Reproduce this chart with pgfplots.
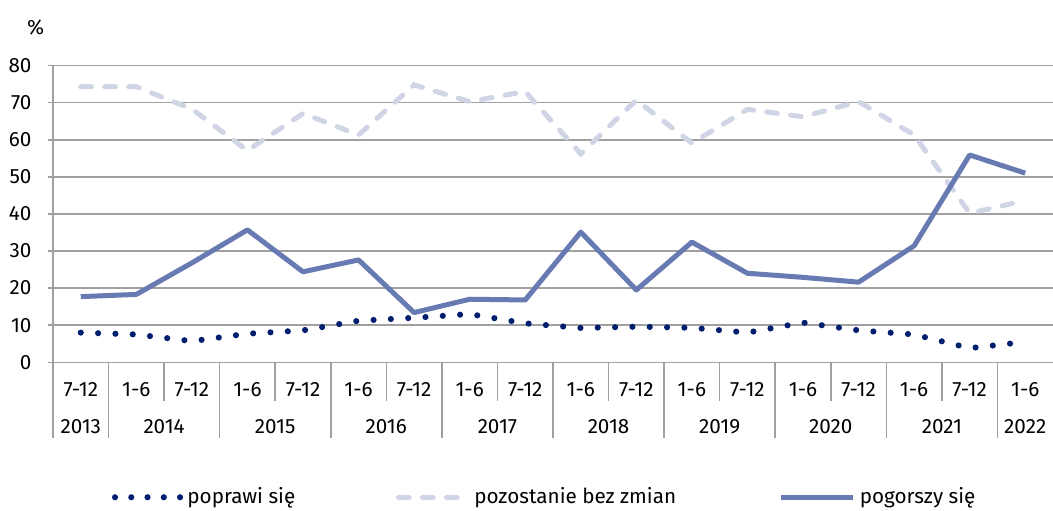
\documentclass[border=0pt]{standalone}
\usepackage{fontspec}
\setmainfont{Fira Sans}
\usepackage{pgfplots}
\pgfplotsset{compat=1.18}
\definecolor{cNavy}{RGB}{0,30,110}
\definecolor{cMid}{RGB}{104,122,178}
\definecolor{cLight}{RGB}{208,213,230}
\definecolor{cGrid}{RGB}{160,160,160}
\newcommand{\fs}{\fontsize{15.5}{18}\selectfont}
\begin{document}
\fs
\begin{tikzpicture}
\begin{axis}[
  scale only axis,
  width=750pt, height=222.5pt,
  xmin=-0.5, xmax=17.5, ymin=0, ymax=80,
  axis x line*=bottom, axis y line*=left,
  axis line style={cGrid, line width=1.1pt},
  xtick=\empty,
  ytick={0,10,...,80},
  ymajorgrids,
  grid style={cGrid, line width=1.1pt},
  tick style={cGrid, line width=1.1pt},
  ytick align=outside, major tick length=3.75pt,
  yticklabel style={font=\fs, xshift=-7pt},
  /pgf/number format/assume math mode=true,
  clip=false,
  legend style={at={(0.492,-0.455)}, anchor=center, draw=none, fill=none,
    legend columns=3, font=\fs,
    /tikz/column 2/.style={column sep=73.5pt},
    /tikz/column 4/.style={column sep=75pt},
    /tikz/every odd column/.append style={column sep=1pt}},
]
\addplot[cNavy, line width=4.6pt, line cap=round, dash pattern=on 0pt off 13pt,
  legend image code/.code={\draw[cNavy, line width=4.6pt, line cap=round, dash pattern=on 0pt off 12.2pt] (0pt,0pt) -- (49pt,0pt);}]
  coordinates {(0,8.0) (1,7.5) (2,5.7) (3,7.7) (4,8.6) (5,11.2) (6,12.0) (7,13.0) (8,10.5) (9,9.25) (10,9.6) (11,9.3) (12,8.0) (13,10.7) (14,8.6) (15,7.5) (16,3.8) (17,5.5)};
\addlegendentry{poprawi się}
\addplot[cLight, line width=3.75pt, line cap=round, dash pattern=on 8pt off 10pt,
  legend image code/.code={\draw[cLight, line width=3.75pt, line cap=round, dash pattern=on 8pt off 10pt] (2pt,0pt) -- (48pt,0pt);}]
  coordinates {(0,74.3) (1,74.3) (2,68.3) (3,57.1) (4,67.1) (5,61.3) (6,74.8) (7,70.3) (8,73.0) (9,56.2) (10,70.7) (11,59.1) (12,68.2) (13,66.2) (14,70.3) (15,61.3) (16,40.2) (17,43.6)};
\addlegendentry{\hspace{6pt}pozostanie bez zmian}
\addplot[cMid, line width=3.75pt, line join=round,
  legend image code/.code={\draw[cMid, line width=3.75pt] (0pt,0pt) -- (54pt,0pt);}]
  coordinates {(0,17.7) (1,18.3) (2,26.8) (3,35.7) (4,24.4) (5,27.6) (6,13.4) (7,17.0) (8,16.8) (9,35.1) (10,19.5) (11,32.4) (12,24.0) (13,22.9) (14,21.6) (15,31.4) (16,55.9) (17,51.0)};
\addlegendentry{pogorszy się}
% category separators
\foreach \b in {-0.5,0.5,2.5,4.5,6.5,8.5,10.5,12.5,14.5,16.5}{
  \edef\tmp{\noexpand\draw[cGrid, line width=1.1pt] (axis cs:\b,0) -- ++(0pt,-57pt);}\tmp
}
\foreach \b in {1.5,3.5,5.5,7.5,9.5,11.5,13.5,15.5}{
  \edef\tmp{\noexpand\draw[cGrid, line width=1.1pt] (axis cs:\b,0) -- ++(0pt,-29pt);}\tmp
}
% half-year labels
\foreach \i/\t in {0/7-12,1/1-6,2/7-12,3/1-6,4/7-12,5/1-6,6/7-12,7/1-6,8/7-12,9/1-6,10/7-12,11/1-6,12/7-12,13/1-6,14/7-12,15/1-6,16/7-12,17/1-6}{
  \edef\tmp{\noexpand\node[anchor=base] at ([yshift=-25.5pt]axis cs:\i,0) {\t};}\tmp
}
% year labels
\foreach \x/\t in {0/2013,1.5/2014,3.5/2015,5.5/2016,7.5/2017,9.5/2018,11.5/2019,13.5/2020,15.5/2021,17/2022}{
  \edef\tmp{\noexpand\node[anchor=base] at ([yshift=-53.5pt]axis cs:\x,0) {\t};}\tmp
}
\node[anchor=base] at ([xshift=-13pt,yshift=23pt]axis cs:-0.5,80) {\%};
\coordinate (BL) at (rel axis cs:0,0);
\end{axis}
\pgfresetboundingbox
\path[use as bounding box] ([shift={(-39.75pt,-111.5pt)}]BL) rectangle ([shift={(750pt,271.7pt)}]BL);
\end{tikzpicture}
\end{document}
